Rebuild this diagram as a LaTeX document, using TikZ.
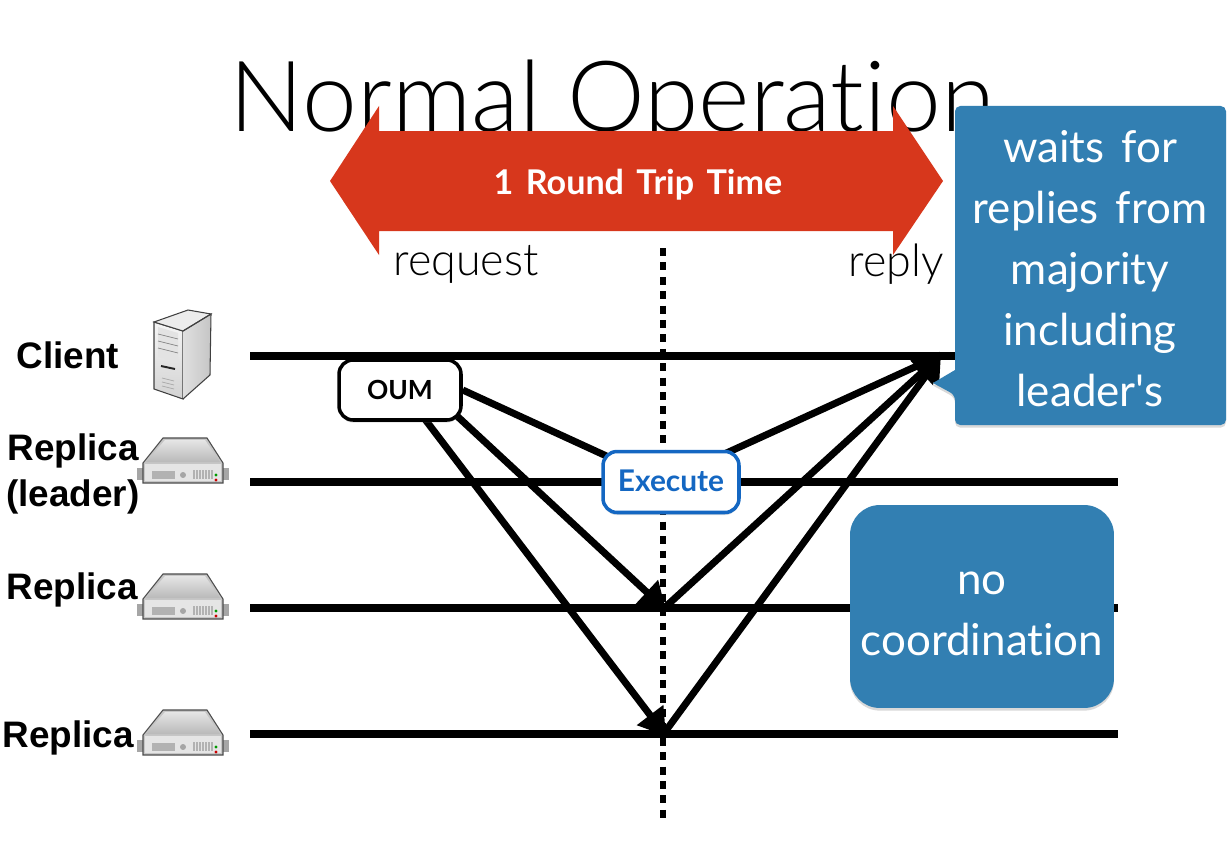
\documentclass[tikz,border=0pt]{standalone}
\usepackage{fontspec}
\usepackage{tikz}
\usetikzlibrary{arrows.meta,shadows}
\setmainfont{Liberation Sans}
\newfontfamily\thinfont{Lato Light}[Ligatures=NoCommon]
\newfontfamily\handfont{Lato}[WordSpace=1.5,Ligatures=NoCommon]
\definecolor{calloutblue}{HTML}{327FB2}
\definecolor{arrowred}{HTML}{D7371C}
\definecolor{execblue}{HTML}{1467C2}
\pgfdeclarelayer{back}
\pgfsetlayers{back,main}
\tikzset{
  timeline/.style={line width=4pt},
  msg/.style={line width=4pt},
  msgtip/.style={msg,-{Triangle[length=15pt,width=18pt]}},
  hostlabel/.style={font=\fontsize{21}{26}\selectfont\bfseries,align=center,inner sep=0pt},
  sketchbox/.style={draw,fill=white,rounded corners=8pt,line width=2pt,
    drop shadow={opacity=.25,shadow xshift=0pt,shadow yshift=-1.5pt}},
  bluebox/.style={fill=calloutblue,drop shadow={opacity=.3,shadow xshift=0pt,shadow yshift=-1.5pt}},
  bluetext/.style={text=white,align=center,font=\handfont\fontsize{25}{34.7}\selectfont,inner sep=0pt},
  lighttext/.style={font=\thinfont\fontsize{25.5}{30}\selectfont,inner sep=0pt}
}
%% rack server icon, origin in the middle of the top edge
\tikzset{pics/rackserver/.style={code={
  \fill[gray!70] (-46,30) rectangle (-38,42);
  \fill[gray!70] (38,30) rectangle (46,42);
  \draw[gray!60!black,line width=.6pt,fill=gray!45] (-20,0) -- (24,0) -- (40,25) -- (40,45) -- (-40,45) -- (-40,25) -- cycle;
  \shade[top color=gray!20,bottom color=gray!55] (-18,2) -- (22,2) -- (37,24) -- (-37,24) -- cycle;
  \fill[gray!20] (-38,26) rectangle (38,43);
  \fill[gray!60] (-31,33) rectangle (-8,41);
  \fill[gray!70] (0,37) circle (1.7pt);
  \foreach \vx in {10,13,...,28} {\fill[gray!60] (\vx,32) rectangle +(1.5,9);}
  \fill[green!60!black] (33,37) circle (.9pt);
  \fill[red!80!black] (33,42) circle (.9pt);
}}}
\begin{document}
\begin{tikzpicture}[x=0.02cm,y=-0.02cm]
  \useasboundingbox (0,0) rectangle (1230,848);
  %% Draw the event points
  \coordinate (cstart) at (250,356);
  \coordinate (cend) at (960,356);
  \coordinate (ctip) at (941,355);
  \coordinate (lstart) at (250,482);
  \coordinate (lend) at (1118,482);
  \coordinate (levent) at (663,482);
  \coordinate (astart) at (250,608);
  \coordinate (aend) at (1118,608);
  \coordinate (aevent) at (666,610);
  \coordinate (aback) at (662,610);
  \coordinate (bstart) at (250,734);
  \coordinate (bend) at (1118,734);
  \coordinate (bevent) at (666,736);
  \coordinate (bback) at (662,736);
  \coordinate (dottop) at (663,248);
  \coordinate (dotbottom) at (663,820);
  \coordinate (oumout) at (429,390);
  \coordinate (oumoutb) at (405,393);
  %% Draw the title and the red arrow
  \node[font=\thinfont\fontsize{56}{60}\selectfont,inner sep=0pt,anchor=base] (title) at (612.5,132) {Normal Operation};
  \fill[arrowred] (330,181) -- (379,106) -- (379,131) -- (893,131) -- (893,106) -- (943,181)
    -- (893,255) -- (893,231) -- (379,231) -- (379,255) -- cycle;
  \node[text=white,font=\handfont\bfseries\fontsize{19.4}{24}\selectfont,inner sep=0pt] (rtt) at (638,185) {1 Round Trip Time};
  \node[lighttext] (request) at (466,264) {request};
  \node[lighttext] (reply) at (896,264) {reply};
  %% Draw the hosts
  \node[hostlabel] (client) at (68,355) {Client};
  \node[hostlabel] (leader) at (73,474) {Replica\\(leader)};
  \node[hostlabel] (replicaa) at (72,590) {Replica};
  \node[hostlabel] (replicab) at (68,738) {Replica};
  \shade[top color=gray!8,bottom color=gray!35,draw=gray!50!black,line width=.6pt]
    (154,322) -- (183,331) -- (183,399) -- (154,389) -- cycle;
  \shade[left color=gray!25,right color=gray!45] (183,331) -- (211,314) -- (210,375) -- (183,399) -- cycle;
  \draw[gray!50!black,line width=.6pt,fill=gray!15] (154,322) -- (188,310) -- (211,314) -- (183,331) -- cycle;
  \draw[gray!50!black,line width=.6pt] (183,331) -- (211,314) -- (210,375) -- (183,399);
  \fill[gray!22] (158,327) -- (178,333) -- (178,362) -- (158,357) -- cycle;
  \foreach \ty in {334,341,348} {\draw[gray,line width=.4pt] (158,\ty) -- (178,\ty+5);}
  \draw[gray!30!black,line width=1.1pt] (161,366) -- (175,369);
  \foreach \ty in {378,382,386} {\draw[gray!70,line width=.4pt] (162,\ty) -- (174,\ty+3);}
  \pic (servera) at (183,438) {rackserver};
  \pic (serverb) at (183,574) {rackserver};
  \pic (serverc) at (183,710) {rackserver};
  %% Draw the boxes
  \node[sketchbox,font=\handfont\bfseries\fontsize{15}{20}\selectfont,minimum width=2.44cm,minimum height=1.2cm] (oum) at (400,390) {OUM};
  \node[sketchbox,draw=execblue,text=execblue,font=\handfont\bfseries\fontsize{17}{20}\selectfont,
    minimum width=2.72cm,minimum height=1.22cm,text height=11pt,text depth=0pt] (execute) at (671,482) {Execute};
  \path[bluebox,rounded corners=3pt] (955,106) -- (1226,106) -- (1226,425) -- (955,425) -- (955,395)
    [sharp corners] -- (933,383) -- (955,370) [rounded corners=3pt] -- cycle;
  \node[bluetext] (waits) at (1090,269) {waits for\\replies from\\majority\\including\\leader's};
  \node[bluebox,rounded corners=17pt,minimum width=5.28cm,minimum height=4.06cm] (nocoord) at (982,606.5) {};
  \node[bluetext] (nocoordtext) at (982,614) {no\\coordination};
  %% Draw the timelines and the messages
  \begin{pgfonlayer}{back}
    \draw[timeline] (cstart) -- (cend);
    \draw[timeline] (lstart) -- (lend);
    \draw[timeline] (astart) -- (aend);
    \draw[timeline] (bstart) -- (bend);
    \draw[line width=3pt,dash pattern=on 4.5pt off 3.7pt] (dottop) -- (dotbottom);
    \draw[msg] (oum.east) -- (levent);
    \draw[msg] (levent) -- (ctip);
    \draw[msgtip] (oumout) -- (aevent);
    \draw[msgtip] (oumoutb) -- (bevent);
    \draw[msgtip] (aback) -- (ctip);
    \draw[msgtip] (bback) -- (ctip);
  \end{pgfonlayer}
\end{tikzpicture}
\end{document}
